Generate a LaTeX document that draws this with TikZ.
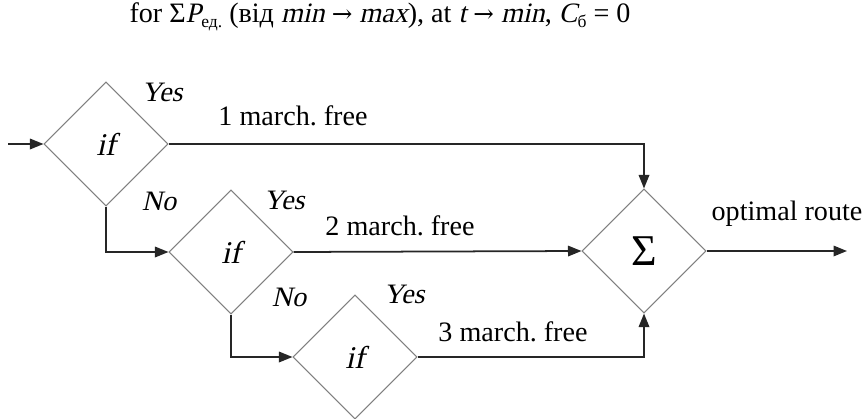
\documentclass[tikz,border=0pt]{standalone}
\usepackage{fontspec}
\setmainfont{Liberation Serif}[ItalicFont={Liberation Serif},ItalicFeatures={FakeSlant=0.22}]
\newfontfamily\arrowfont{DejaVu Serif}
\usetikzlibrary{shapes.geometric,arrows.meta}
\newcommand{\lowtext}[1]{\raisebox{-0.35ex}{\fontsize{10}{12}\selectfont #1}}
\newcommand{\toarrow}{{\arrowfont\fontsize{14}{16}\selectfont →}}
\tikzset{
	cond/.style={diamond, draw=gray, line width=0.6pt, minimum width=2.48cm, minimum height=2.48cm, inner sep=0pt, font=\fontsize{18}{20}\selectfont\itshape},
	flow/.style={draw=black!85, line width=1pt, -{Triangle[length=0.27cm,width=0.21cm]}},
	lbl/.style={inner sep=1pt, font=\fontsize{16}{19}\selectfont},
	ilbl/.style={inner sep=1pt, font=\fontsize{16}{19}\selectfont\itshape}
}
\begin{document}
\begin{tikzpicture}[x=0.02cm,y=-0.02cm]
		\useasboundingbox (0,0) rectangle (866,419);

		\node[lbl] (title) at (380,17) {for Σ\textit{P}\lowtext{ед.} (від \textit{min} \toarrow{} \textit{max}), at \textit{t} \toarrow{} \textit{min}, \textit{C}\lowtext{б} = 0};

		\node[cond] (if1) at (106,144) {if};
		\node[cond] (if2) at (231,252) {if};
		\node[cond] (if3) at (355,357) {if};
		\node[cond, font=\fontsize{25}{27}\selectfont] (sum) at (644,251) {Σ};

		\coordinate (in) at (8,144);
		\coordinate (out) at (847,251);

		\draw[flow] (in) -- (if1.west);
		\draw[flow] (if1.east) -| (sum.north);
		\draw[flow] (if1.south) |- (if2.west);
		\draw[flow] (if2.east) -- (sum.west);
		\draw[flow] (if2.south) |- (if3.west);
		\draw[flow] (if3.east) -| (sum.south);
		\draw[flow] (sum.east) -- (out);

		\node[ilbl] (yes1) at (162,92) {Yes};
		\node[ilbl] (no1) at (159,201) {No};
		\node[ilbl] (yes2) at (284,200) {Yes};
		\node[ilbl] (no2) at (289,297) {No};
		\node[ilbl] (yes3) at (404,294) {Yes};

		\node[lbl] (free1) at (293,116) {1 march.\ free};
		\node[lbl] (free2) at (400,226) {2 march.\ free};
		\node[lbl] (free3) at (513,332) {3 march.\ free};
		\node[lbl] (route) at (787,214) {optimal route};
	\end{tikzpicture}
\end{document}
